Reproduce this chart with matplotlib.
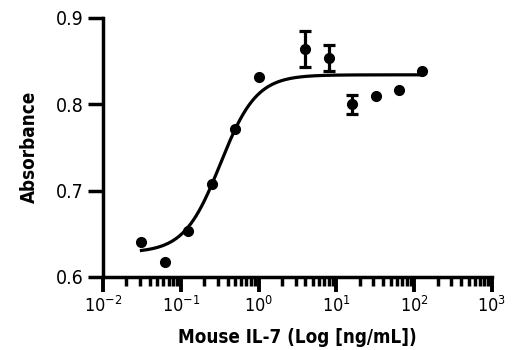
import numpy as np
import matplotlib
matplotlib.use("Agg")
import matplotlib.pyplot as plt
from matplotlib import font_manager
from matplotlib.ticker import LogLocator, NullFormatter

# pick a narrow sans face if one is installed
narrow = [f for f in font_manager.fontManager.ttflist
          if 'Narrow' in f.name or 'Condensed' in f.name or f.stretch in ('condensed', 'semi-condensed')]
family = narrow[0].name if narrow else 'Liberation Sans'
stretch = narrow[0].stretch if narrow else 'normal'
plt.rcParams['font.family'] = [family, 'DejaVu Sans']
plt.rcParams['font.stretch'] = stretch
plt.rcParams['mathtext.fontset'] = 'custom'
plt.rcParams['mathtext.rm'] = family

# concentration (ng/mL) and mean absorbance
conc = [0.03125, 0.0625, 0.125, 0.25, 0.5, 1, 4, 8, 16, 32, 64, 128]
absorb = [0.640, 0.617, 0.653, 0.707, 0.771, 0.831, 0.864, 0.854, 0.800, 0.809, 0.817, 0.839]
err = [0, 0, 0, 0, 0, 0, 0.021, 0.015, 0.011, 0, 0, 0]

# 4-parameter logistic fit
bottom, top, ec50, hill = 0.628, 0.834, 0.323, 1.87

xticks = [1e-2, 1e-1, 1e0, 1e1, 1e2, 1e3]
xticklabels = ['$\\mathregular{10^{-2}}$', '$\\mathregular{10^{-1}}$', '$\\mathregular{10^{0}}$',
               '$\\mathregular{10^{1}}$', '$\\mathregular{10^{2}}$', '$\\mathregular{10^{3}}$']
yticks = [0.6, 0.7, 0.8, 0.9]

fig = plt.figure(figsize=(5.2, 3.5), dpi=100)
ax = fig.add_axes([0.198, 0.209, 0.748, 0.740])

xfit = np.logspace(np.log10(conc[0]), np.log10(conc[-1]), 300)
yfit = bottom + (top - bottom) / (1 + (ec50 / xfit) ** hill)
ax.plot(xfit, yfit, color='black', lw=2.3, zorder=2)

ax.plot(conc, absorb, 'o', color='black', ms=7, zorder=3)
idx = [i for i, e in enumerate(err) if e > 0]
ax.errorbar([conc[i] for i in idx], [absorb[i] for i in idx], yerr=[err[i] for i in idx],
            fmt='none', ecolor='black', elinewidth=2.3, capsize=4.5, capthick=2.3, zorder=3)

ax.set_xscale('log')
ax.set_xlim(1e-2, 1e3)
ax.set_ylim(0.6, 0.9)
ax.set_xticks(xticks)
ax.set_xticklabels(xticklabels)
ax.xaxis.set_minor_locator(LogLocator(base=10, subs=np.arange(2, 10)))
ax.xaxis.set_minor_formatter(NullFormatter())
ax.set_yticks(yticks)
ax.set_yticklabels(['0.6', '0.7', '0.8', '0.9'])

for side in ['top', 'right']:
    ax.spines[side].set_visible(False)
for side in ['left', 'bottom']:
    ax.spines[side].set_linewidth(2.5)

ax.tick_params(axis='y', which='major', length=11, width=2.5, labelsize=14, pad=3)
ax.tick_params(axis='x', which='major', length=11, width=2.8, labelsize=13, pad=3)
ax.tick_params(axis='x', which='minor', length=6.5, width=2.5)

ax.set_xlabel('Mouse IL-7 (Log [ng/mL])', fontsize=13.5, fontweight='bold', labelpad=8)
ax.set_ylabel('Absorbance', fontsize=13.5, fontweight='bold', labelpad=12)

fig.savefig('out.png', dpi=100)
